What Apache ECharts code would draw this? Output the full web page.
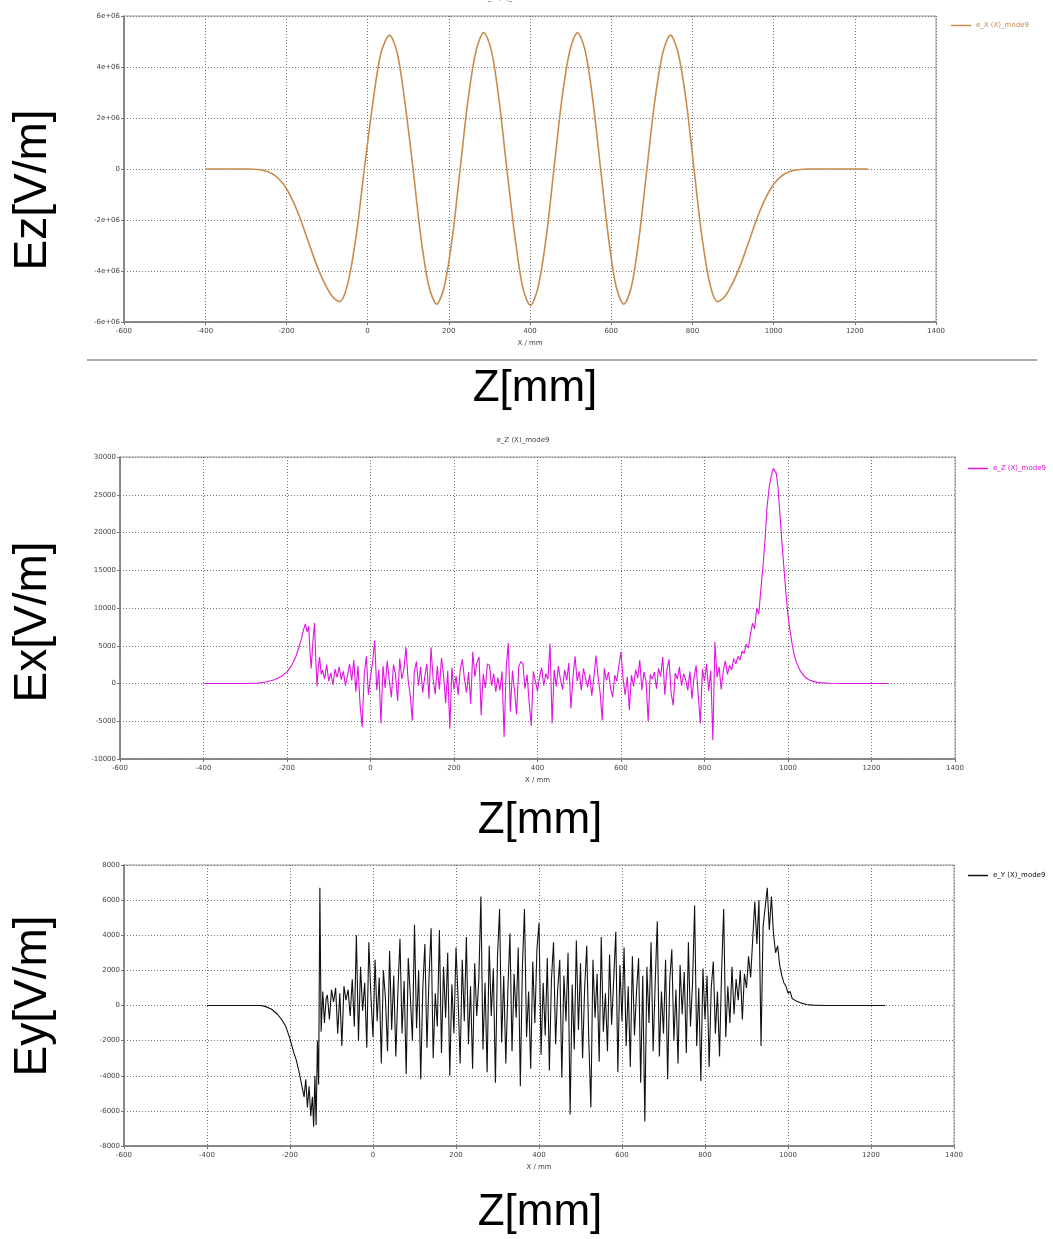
<!DOCTYPE html>
<html>
<head>
<meta charset="utf-8">
<title>Field components along Z</title>
<script src="https://cdn.jsdelivr.net/npm/echarts@6/dist/echarts.min.js"></script>
<style>
  html, body { margin: 0; padding: 0; background: #ffffff; }
  #chart { width: 1053px; height: 1239px; }
</style>
</head>
<body>
<div id="chart"></div>
<script>
// Longitudinal field Ez along the structure, [z in mm, V/m]
const ezPoints = [
  [-400, 0], [-292, 0], [-267, -0.03e6], [-247, -0.1e6], [-227, -0.27e6], [-207, -0.6e6],
  [-187, -1.15e6], [-167, -1.9e6], [-147, -2.8e6], [-127, -3.7e6], [-107, -4.45e6], [-87, -5.0e6],
  [-69, -5.2e6], [-49, -4.5e6], [-28, -2.6e6], [-8, 0], [13, 2.6e6], [33, 4.55e6], [54, 5.25e6],
  [73, 4.55e6], [92, 2.6e6], [112, 0], [131, -2.65e6], [151, -4.6e6], [170, -5.3e6],
  [189, -4.6e6], [209, -2.65e6], [228, 0], [247, 2.67e6], [267, 4.63e6], [286, 5.35e6],
  [305, 4.63e6], [324, 2.67e6], [343, 0], [363, -2.67e6], [382, -4.63e6], [401, -5.35e6],
  [420, -4.63e6], [440, -2.67e6], [459, 0], [478, 2.67e6], [498, 4.63e6], [517, 5.35e6],
  [536, 4.63e6], [555, 2.67e6], [574, 0], [593, -2.65e6], [612, -4.6e6], [631, -5.3e6],
  [650, -4.6e6], [669, -2.65e6], [688, 0], [707, 2.62e6], [727, 4.55e6], [746, 5.25e6],
  [765, 4.55e6], [785, 2.62e6], [804, 0], [823, -2.6e6], [843, -4.5e6], [862, -5.2e6],
  [880, -5.0e6], [900, -4.45e6], [920, -3.7e6], [940, -2.8e6], [960, -1.9e6], [980, -1.15e6],
  [1000, -0.6e6], [1020, -0.27e6], [1040, -0.1e6], [1060, -0.03e6], [1085, 0], [1232, 0]
];

// Transverse field Ex, [z in mm, V/m]
const exPoints = [
  [-400, 0], [-300, 0], [-270, 50], [-250, 200], [-230, 500], [-215, 900], [-200, 1500],
  [-190, 2300], [-180, 3400], [-172, 4700], [-165, 6000], [-160, 7200], [-156, 7900],
  [-152, 6800], [-148, 7600], [-145, 4200], [-142, 2000], [-138, 5500], [-134, 8000],
  [-131, 3000], [-128, -400], [-125, 2200], [-122, 3500], [-118, 1200],
  [-115, 1800], [-110, 600], [-105, 2500], [-100, 300], [-95, 1400], [-90, -200], [-85, 1900], [-80, 800], [-75, 2200], [-70, 500],
  [-65, 1600], [-60, -300], [-55, 1100], [-50, 2600], [-45, 400], [-40, 3100], [-35, -1100], [-30, 2300], [-25, -2800], [-20, -5800],
  [-15, 1200], [-10, 3600], [-5, -1500], [0, 900], [5, 2800], [10, 5700], [15, -900], [20, 1800], [25, -5300], [30, 2300],
  [35, -600], [40, 3000], [45, 400], [50, -1800], [55, 2500], [60, 1200], [65, -2300], [70, 3300], [75, 600], [80, 1900],
  [85, 4800], [90, 500], [95, -1500], [100, -4900], [105, 1600], [110, 2900], [115, -300], [120, 2200], [125, -1200], [130, 900],
  [135, 2600], [140, -2000], [145, 4800], [150, 600], [155, -1400], [160, 2300], [165, -800], [170, 3400], [175, 1100], [180, -2600],
  [185, 1700], [190, -6000], [195, 2100], [200, -800], [205, 1000], [210, -1500], [215, 1900], [220, 3200], [225, 600], [230, -1200],
  [235, 1500], [240, -2700], [245, 4200], [250, 900], [255, 2800], [260, 3500], [265, -4200], [270, 1300], [275, -600], [280, 2600],
  [285, 2400], [290, -300], [295, 1300], [300, -1100], [305, 800], [310, -900], [315, 1600], [320, -7100], [325, 2000], [330, 5400],
  [335, -3700], [340, 1700], [345, -1000], [350, -4100], [355, 2200], [360, 2900], [365, 2600], [370, -700], [375, 1200], [380, -2500],
  [385, -5600], [390, 1600], [395, 300], [400, -1000], [405, 900], [410, 2100], [415, -300], [420, 1300], [425, 600], [430, 5300],
  [435, -5300], [440, 1800], [445, -400], [450, 2300], [455, 500], [460, -800], [465, 1800], [470, 400], [475, 2700], [480, -3300],
  [485, 900], [490, 3600], [495, 300], [500, 1600], [505, -900], [510, 2000], [515, 700], [520, -500], [525, 1200], [530, -1600],
  [535, 800], [540, 3700], [545, 1000], [550, -1200], [555, -4900], [560, 2000], [565, 400], [570, 1500], [575, -600], [580, -1800],
  [585, 1100], [590, 300], [595, 2400], [600, 4200], [605, 600], [610, -1500], [615, 900], [620, -3500], [625, 1100], [630, -400],
  [635, 1800], [640, 700], [645, 3100], [650, -900], [655, 1500], [660, 300], [665, -5000], [670, 1200], [675, 600], [680, 1500],
  [685, -700], [690, 2000], [695, 900], [700, 3500], [705, -1500], [710, 1800], [715, 3200], [720, -1200], [725, -2900], [730, 1400],
  [735, 600], [740, 2200], [745, -300], [750, 1300], [755, 500], [760, -900], [765, 1600], [770, -2000], [775, 800], [780, 2400],
  [785, -1500], [790, -5300], [795, 1900], [800, 300], [805, 2600], [810, -1000], [815, 1700], [820, -7500], [825, 5500], [830, 800],
  [835, 2200], [840, -800], [845, 1700], [850, 3000], [855, 1200], [860, 2400], [865, 1800], [870, 3300], [875, 2600], [880, 3600],
  [885, 3100], [890, 4300], [895, 4000], [900, 5200], [905, 4700], [910, 6500], [915, 8000], [920, 7200], [925, 10000], [930, 9200],
  [935, 12500], [940, 15500], [945, 19000], [950, 23500], [955, 26000], [960, 27500], [965, 28500], [968, 28300], [972, 27800],
  [976, 26000], [980, 23000], [985, 19000], [990, 15500], [995, 12000], [1000, 9000], [1005, 7000], [1010, 5200], [1015, 3800],
  [1020, 2800], [1030, 1600], [1040, 900], [1050, 500], [1060, 280], [1070, 150], [1080, 80], [1100, 30], [1130, 0], [1240, 0]
];

// Transverse field Ey, [z in mm, V/m]
const eyPoints = [
  [-400, 0], [-270, 0], [-260, -50], [-245, -200], [-230, -500], [-220, -800], [-210, -1200], [-200, -1900],
  [-192, -2600], [-185, -3100], [-178, -3800], [-172, -4500], [-166, -5200], [-162, -4200], [-158, -5800],
  [-154, -4600], [-150, -6300], [-146, -5200], [-143, -6900], [-140, -4000], [-137, -6800], [-134, -2000],
  [-131, -4500], [-128, 6700], [-125, -1500], [-121, 800], [-117, -1000], [-113, 400],
  [-110, 600], [-105, -800], [-100, 900], [-95, 200], [-90, 1000], [-85, -1600], [-80, 700], [-75, -2300], [-70, 1100], [-65, 300],
  [-60, 900], [-55, -600], [-50, 1500], [-45, -1200], [-40, 4000], [-35, -2000], [-30, 2200], [-25, -300], [-20, 1300], [-15, -2400],
  [-10, 3600], [-5, 500], [0, -1800], [5, 2600], [10, -900], [15, 1600], [20, -3300], [25, 2000], [30, 400], [35, -2600],
  [40, 3100], [45, -1400], [50, 1700], [55, -2900], [60, 800], [65, 3800], [70, -1600], [75, 1400], [80, -3900], [85, 2700],
  [90, 500], [95, -2000], [100, 4600], [105, -1300], [110, 2000], [115, -4200], [120, 1000], [125, 3500], [130, -2400], [135, 1600],
  [140, 4400], [145, -3000], [150, 700], [155, -1200], [160, 4300], [165, -2700], [170, 2200], [175, -700], [180, 3000], [185, -4000],
  [190, 1200], [195, -1600], [200, 3300], [205, 400], [210, -3300], [215, 2600], [220, -900], [225, 3900], [230, -2200], [235, 1100],
  [240, -3600], [245, 2400], [250, -600], [255, 1500], [260, 6200], [265, -2500], [270, 1300], [275, -3800], [280, 3400], [285, -600],
  [290, 2100], [295, -4400], [300, 2800], [305, 5500], [310, -2100], [315, 1700], [320, -3300], [325, 900], [330, 4100], [335, -2600],
  [340, 1800], [345, -700], [350, 3300], [355, -4600], [360, 2200], [365, 5500], [370, -1800], [375, 800], [380, -3600], [385, 2500],
  [390, -1000], [395, 3200], [400, 4700], [405, -2800], [410, 1300], [415, -1700], [420, 2700], [425, -3700], [430, 1500], [435, 3600],
  [440, -2200], [445, 900], [450, 2600], [455, -4100], [460, 1700], [465, -900], [470, 3000], [475, -6200], [480, 1200], [485, -2500],
  [490, 3700], [495, -1400], [500, 2400], [505, -3000], [510, 1000], [515, 3400], [520, -2000], [525, -5800], [530, 2600], [535, -700],
  [540, 1800], [545, -3200], [550, 3900], [555, -1500], [560, 700], [565, -2600], [570, 2900], [575, -1100], [580, 1500], [585, 4200],
  [590, -3800], [595, 2300], [600, -900], [605, 3300], [610, -2300], [615, 1100], [620, -3500], [625, 2800], [630, -1700], [635, 800],
  [640, 2700], [645, -4400], [650, 1700], [655, -6600], [660, 2200], [665, -1000], [670, 3600], [675, -2600], [680, 1300], [685, 4800],
  [690, -2900], [695, 800], [700, -1600], [705, 2600], [710, -4200], [715, 1400], [720, 3200], [725, -2000], [730, 900], [735, -3300],
  [740, 2300], [745, -500], [750, 1900], [755, -2700], [760, 3600], [765, -1200], [770, 1300], [775, 5700], [780, -2300], [785, 1000],
  [790, -4300], [795, 2100], [800, -800], [805, 1700], [810, -3500], [815, 1000], [820, 2500], [825, -1600], [830, 800], [835, -2900],
  [840, 1900], [845, 5500], [850, -1800], [855, 1100], [860, -1000], [865, 2200], [870, -500], [875, 1500], [880, 300], [885, 2000],
  [890, -800], [895, 1800], [900, 1000], [905, 2800], [910, 1600], [915, 3800], [920, 5900], [925, 3500], [930, 6000], [935, -2300],
  [940, 4500], [945, 5600], [950, 6700], [955, 4300], [960, 6200], [965, 4100], [970, 3000], [975, 3400], [980, 2300], [985, 1700],
  [990, 1300], [995, 1100], [1000, 700], [1005, 800], [1010, 400], [1020, 250], [1030, 150], [1045, 60], [1060, 20], [1090, 0], [1234, 0]
];

const seriesNames = ['e_X (X)_mode9', 'e_Z (X)_mode9', 'e_Y (X)_mode9'];
const seriesColors = ['#c98b4e', '#e014e0', '#111111'];
const yLabels = ['Ez[V/m]', 'Ex[V/m]', 'Ey[V/m]'];
const xLabel = 'Z[mm]';
const axisName = 'X / mm';

const chart = echarts.init(document.getElementById('chart'), null, { renderer: 'canvas' });

const grids = [
  { left: 124, top: 16, width: 812, height: 306 },
  { left: 120, top: 457, width: 835, height: 302 },
  { left: 124, top: 865, width: 830, height: 281 }
];

const small = { fontFamily: 'DejaVu Sans', fontSize: 7, color: '#444' };
const dotted = { show: true, lineStyle: { type: [1, 2], color: '#777', width: 1 } };

// plain numbers, no thousands separators
function plainLabel(v) { return String(v); }
function sciLabel(v) {
  if (v === 0) return '0';
  return (v / 1e6) + 'e+06';
}

const xAxes = grids.map((g, i) => ({
  type: 'value', gridIndex: i, min: -600, max: 1400, interval: 200,
  name: axisName, nameLocation: 'middle', nameGap: 18,
  nameTextStyle: { fontFamily: 'DejaVu Sans', fontSize: 7, color: '#444' },
  axisLine: { show: true, onZero: false, lineStyle: { color: '#777', width: 1.5 } },
  axisTick: { show: true, length: 3, lineStyle: { color: '#777' } },
  axisLabel: Object.assign({ margin: 6, formatter: plainLabel }, small),
  splitLine: dotted
}));

const yRanges = [[-6e6, 6e6, 2e6], [-10000, 30000, 5000], [-8000, 8000, 2000]];
const yAxes = yRanges.map((r, i) => ({
  type: 'value', gridIndex: i, min: r[0], max: r[1], interval: r[2],
  axisLine: { show: true, onZero: false, lineStyle: { color: '#777', width: 1.5 } },
  axisTick: { show: true, length: 3, lineStyle: { color: '#777' } },
  axisLabel: Object.assign({ margin: 4, formatter: i === 0 ? sciLabel : plainLabel }, small),
  splitLine: dotted
}));

const data = [ezPoints, exPoints, eyPoints];
const series = data.map((d, i) => ({
  name: seriesNames[i], type: 'line', xAxisIndex: i, yAxisIndex: i,
  data: d, showSymbol: false, smooth: i === 0 ? 0.3 : false,
  lineStyle: { color: seriesColors[i], width: i === 0 ? 1.6 : 1.1 },
  itemStyle: { color: seriesColors[i] },
  animation: false
}));

const legendTops = [17, 460, 867];
const legendLefts = [946, 963, 963];
const legends = seriesNames.map((n, i) => ({
  data: [n], left: legendLefts[i], top: legendTops[i], orient: 'vertical',
  icon: 'rect', itemWidth: 20, itemHeight: 1.5, itemGap: 4,
  textStyle: { fontFamily: 'DejaVu Sans', fontSize: 7, color: seriesColors[i] },
  selectedMode: false
}));

const bigFont = '46px "Liberation Sans", Arial, sans-serif';
const zFont = '44px "Liberation Sans", Arial, sans-serif';
const graphics = [
  // chart captions
  { type: 'text', x: 510, y: -2, style: { text: seriesNames[0], font: '7px "DejaVu Sans"', fill: '#444', textAlign: 'center', textVerticalAlign: 'middle' } },
  { type: 'text', x: 523, y: 440, style: { text: seriesNames[1], font: '7px "DejaVu Sans"', fill: '#444', textAlign: 'center', textVerticalAlign: 'middle' } },
  // separator below the first panel
  { type: 'line', shape: { x1: 87, y1: 360, x2: 1037, y2: 360 }, style: { stroke: '#aaaaaa', lineWidth: 2 } },
  // vertical quantity labels
  { type: 'text', x: 33, y: 190, rotation: Math.PI / 2, style: { text: yLabels[0], font: bigFont, fill: '#000', textAlign: 'center', textVerticalAlign: 'middle' } },
  { type: 'text', x: 33, y: 622, rotation: Math.PI / 2, style: { text: yLabels[1], font: bigFont, fill: '#000', textAlign: 'center', textVerticalAlign: 'middle' } },
  { type: 'text', x: 33, y: 996, rotation: Math.PI / 2, style: { text: yLabels[2], font: bigFont, fill: '#000', textAlign: 'center', textVerticalAlign: 'middle' } },
  // horizontal coordinate labels
  { type: 'text', x: 535, y: 389, style: { text: xLabel, font: zFont, fill: '#000', textAlign: 'center', textVerticalAlign: 'middle' } },
  { type: 'text', x: 540, y: 821, style: { text: xLabel, font: zFont, fill: '#000', textAlign: 'center', textVerticalAlign: 'middle' } },
  { type: 'text', x: 540, y: 1213, style: { text: xLabel, font: zFont, fill: '#000', textAlign: 'center', textVerticalAlign: 'middle' } }
];

chart.setOption({
  backgroundColor: '#ffffff',
  animation: false,
  grid: grids.map(g => Object.assign({ show: true, borderColor: '#999', borderWidth: 1, backgroundColor: 'transparent' }, g)),
  xAxis: xAxes,
  yAxis: yAxes,
  legend: legends,
  series: series,
  graphic: graphics
});
</script>
</body>
</html>
